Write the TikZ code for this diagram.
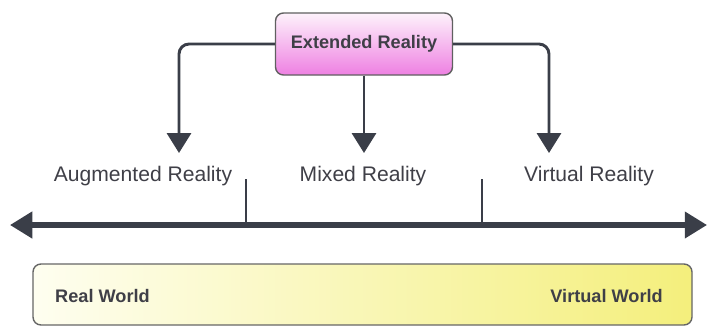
\documentclass[tikz,border=0pt]{standalone}
\usepackage{fontspec}
\setmainfont{Liberation Sans}
\usetikzlibrary{arrows.meta}
\definecolor{inkgray}{HTML}{3A3E48}
\definecolor{txtgray}{HTML}{3F3F47}
\definecolor{xrpink}{HTML}{EE80E2}
\definecolor{xrtop}{HTML}{FDF2FB}
\definecolor{worldyellow}{HTML}{F4EF7C}
\definecolor{worldpale}{HTML}{FEFEF0}
\tikzset{
  xrbox/.style={draw=gray!75!black, line width=1.2pt, rounded corners=0.24cm,
    top color=xrtop, bottom color=xrpink, minimum width=5.31cm, minimum height=1.86cm,
    text=txtgray, font=\fontsize{15.5}{18}\selectfont\bfseries},
  worldbox/.style={draw=gray!80!black, line width=1.2pt, rounded corners=0.24cm,
    left color=worldpale, right color=worldyellow, minimum width=19.77cm, minimum height=1.83cm},
  worldlabel/.style={text=txtgray, font=\fontsize{15.5}{18}\selectfont\bfseries, inner sep=0pt},
  kindlabel/.style={text=txtgray, font=\fontsize{18}{20}\selectfont, inner sep=0pt},
  branch/.style={draw=inkgray, line width=2.5pt, rounded corners=0.3cm,
    -{Triangle[length=17pt, width=20.5pt]}},
  axis/.style={draw=inkgray, line width=4.3pt,
    {Triangle[length=19pt, width=22pt]}-{Triangle[length=19pt, width=22pt]}},
  tick/.style={draw=inkgray, line width=2.5pt}
}
\begin{document}
\begin{tikzpicture}[x=0.03cm,y=-0.03cm]
  \useasboundingbox (0,0) rectangle (707,326);
  % top box
  \node[xrbox] (xr) at (364,44) {Extended Reality};
  \coordinate (artip) at (179,153);
  \coordinate (mrtip) at (364,153);
  \coordinate (vrtip) at (549,153);
  \draw[branch] (xr.west) -| (artip);
  \draw[branch] (xr.south) -- (mrtip);
  \draw[branch] (xr.east) -| (vrtip);
  % labels
  \node[kindlabel] (ar) at (143,176) {Augmented Reality};
  \node[kindlabel] (mr) at (363,176) {Mixed Reality};
  \node[kindlabel] (vr) at (589,176) {Virtual Reality};
  % axis with ticks
  \coordinate (axleft) at (10,225);
  \coordinate (axright) at (707,225);
  \coordinate (tickatop) at (246,179);
  \coordinate (tickabot) at (246,225);
  \coordinate (tickbtop) at (482,179);
  \coordinate (tickbbot) at (482,225);
  \draw[tick] (tickatop) -- (tickabot);
  \draw[tick] (tickbtop) -- (tickbbot);
  \draw[axis] (axleft) -- (axright);
  % bottom box
  \node[worldbox] (world) at (362.5,294.5) {};
  \node[worldlabel, anchor=west] (real) at (55,296) {Real World};
  \node[worldlabel, anchor=east] (virt) at (663,296) {Virtual World};
\end{tikzpicture}
\end{document}
